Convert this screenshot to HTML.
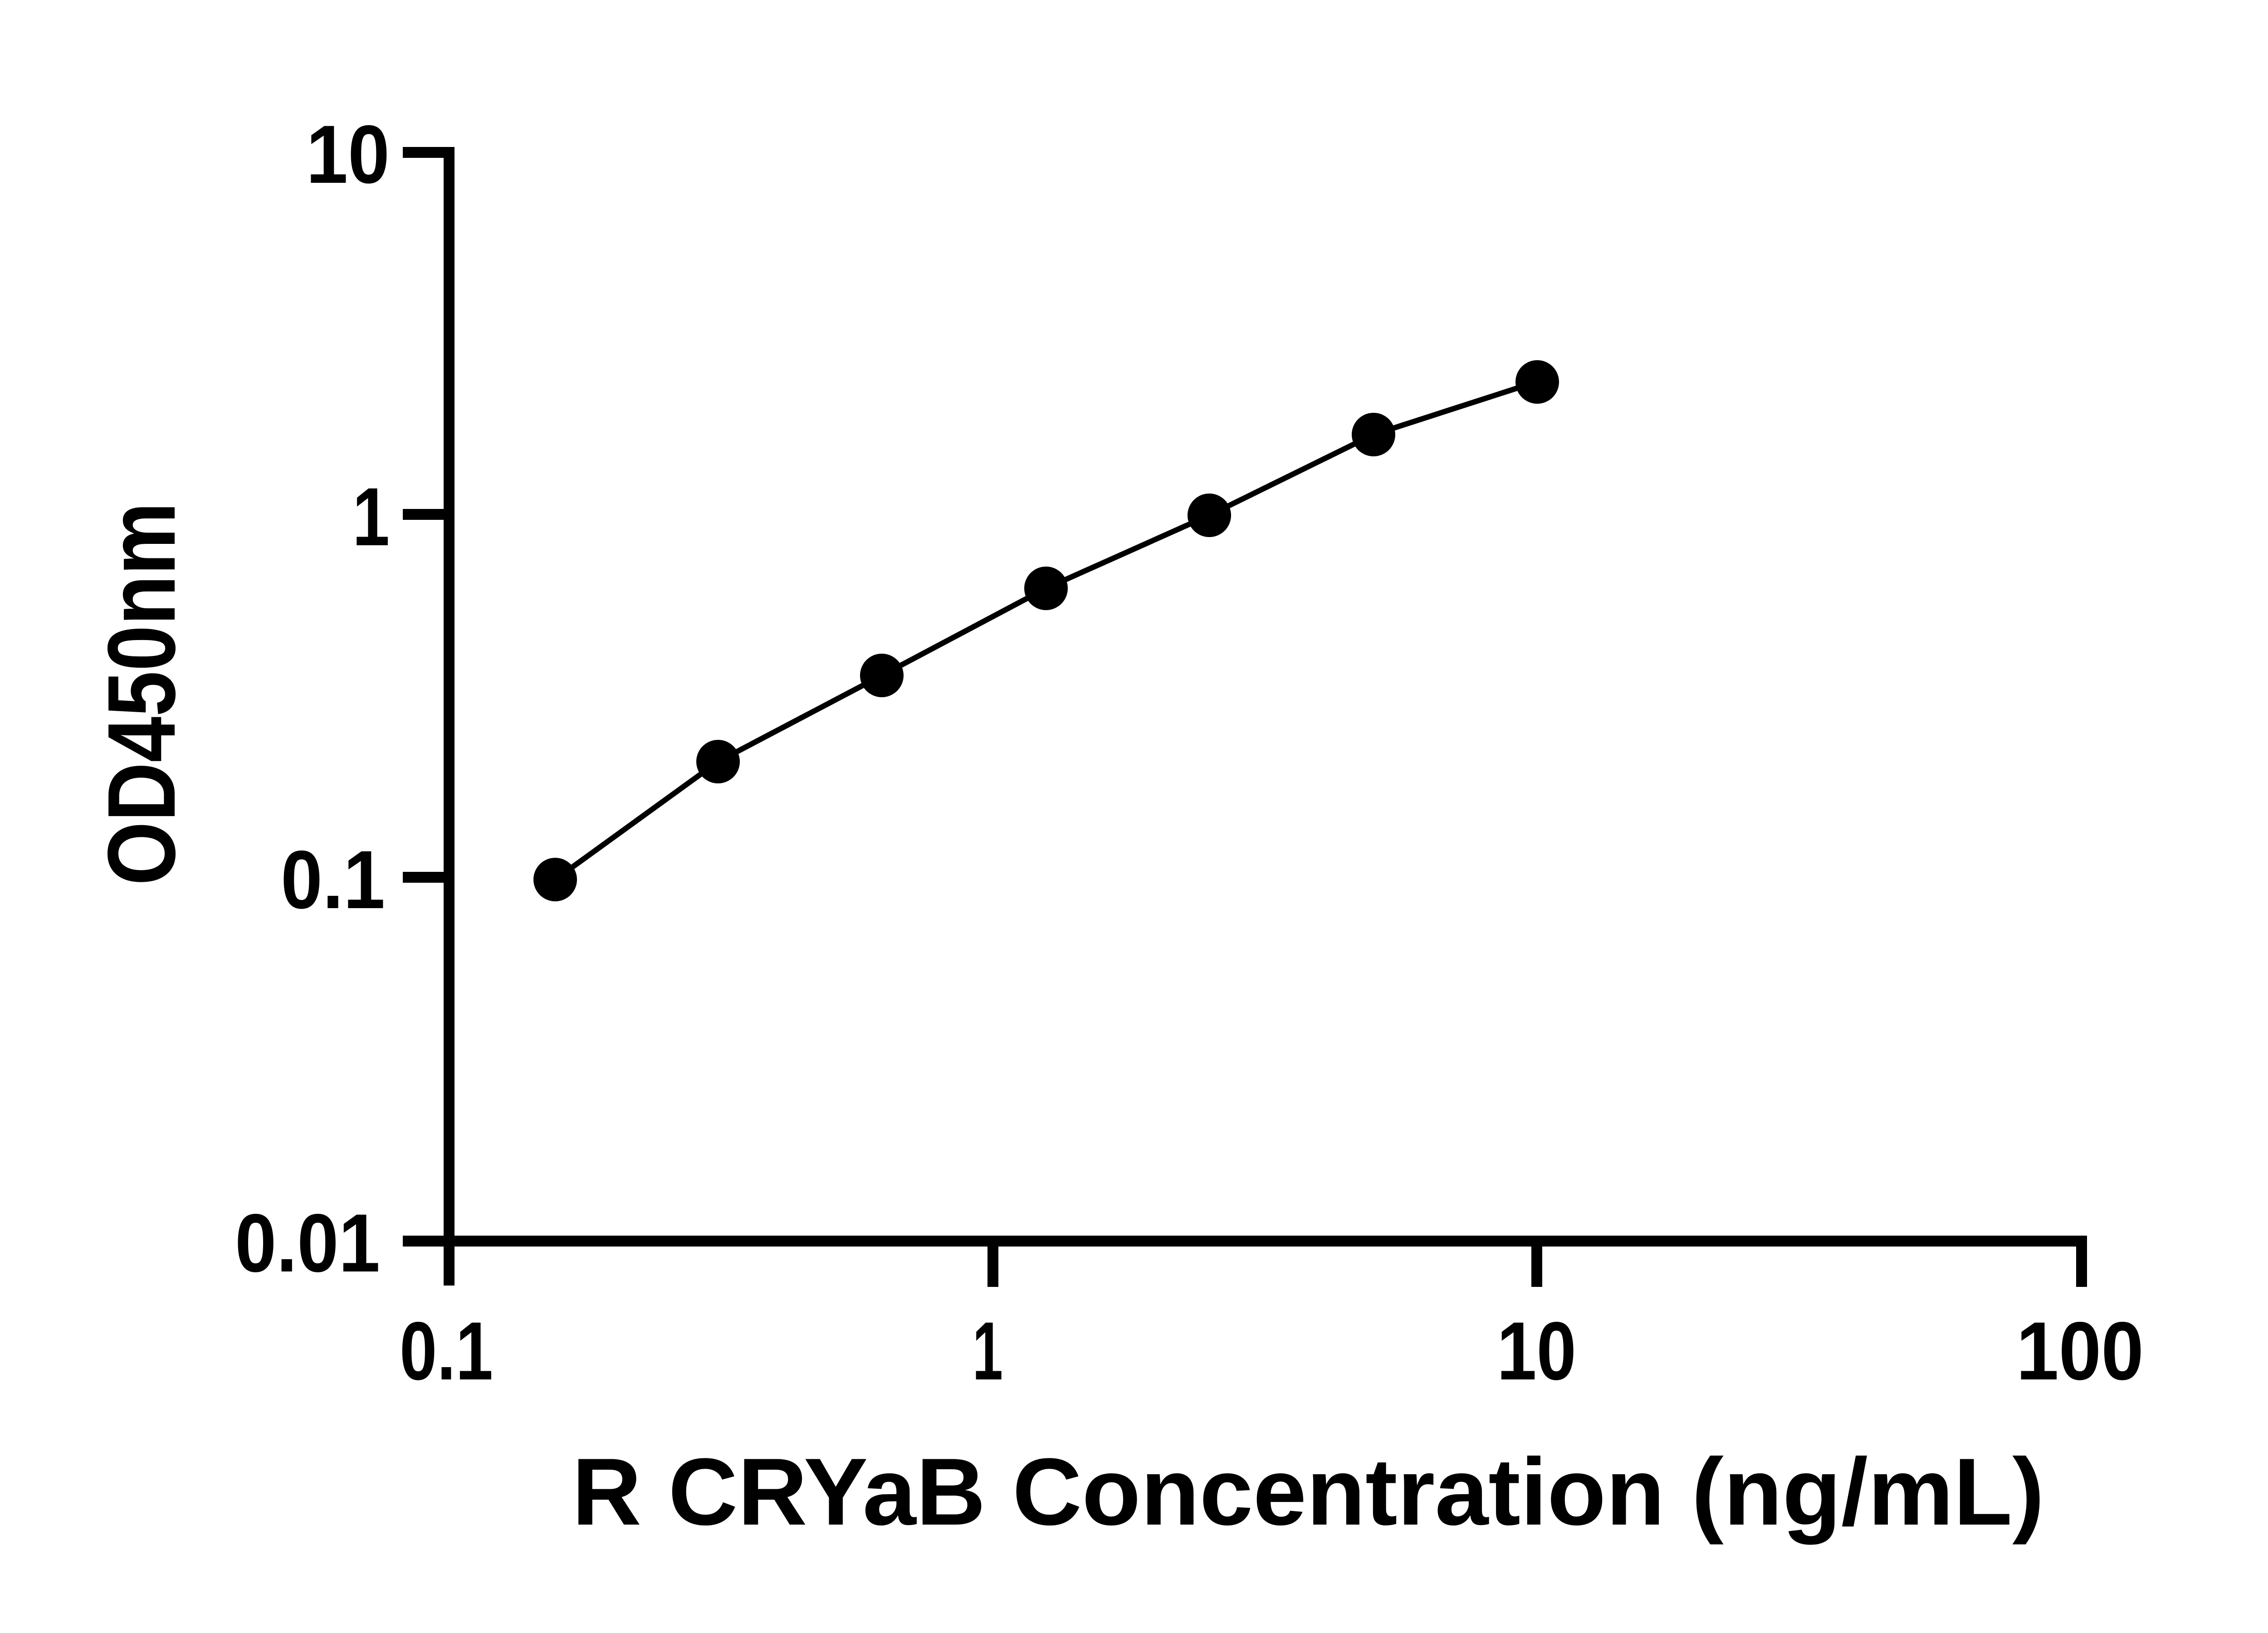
<!DOCTYPE html>
<html><head><style>html,body{margin:0;padding:0;background:#fff}svg{display:block}</style></head>
<body>
<svg width="5142" height="3600" viewBox="0 0 5142 3600" xmlns="http://www.w3.org/2000/svg">
<g stroke="#000" fill="none">
<line x1="990" y1="324" x2="990" y2="2834" stroke-width="24"/>
<line x1="978" y1="2736" x2="4601" y2="2736" stroke-width="24"/>
<g stroke-width="24">
<line x1="888" y1="336" x2="990" y2="336"/>
<line x1="888" y1="1134" x2="990" y2="1134"/>
<line x1="888" y1="1934" x2="990" y2="1934"/>
<line x1="888" y1="2736" x2="990" y2="2736"/>
<line x1="2189" y1="2736" x2="2189" y2="2837"/>
<line x1="3388" y1="2736" x2="3388" y2="2837"/>
<line x1="4589" y1="2736" x2="4589" y2="2837"/>
</g>
<polyline stroke-width="12" stroke-linejoin="round" points="1224,1939 1583,1679 1944,1489 2306,1297 2666,1136 3028,958 3390,841"/>
</g>
<g fill="#000">
<circle cx="1224" cy="1939" r="48"/><circle cx="1583" cy="1679" r="48"/><circle cx="1944" cy="1489" r="48"/>
<circle cx="2306" cy="1297" r="48"/><circle cx="2666" cy="1136" r="48"/><circle cx="3028" cy="958" r="48"/>
<circle cx="3389" cy="842" r="48"/>
</g>
<g font-family="Liberation Sans, sans-serif" font-weight="bold" font-size="182" fill="#000">
<text x="675" y="403" textLength="184" lengthAdjust="spacingAndGlyphs">10</text>
<text x="777" y="1202" textLength="82" lengthAdjust="spacingAndGlyphs">1</text>
<text x="619" y="2002" textLength="230" lengthAdjust="spacingAndGlyphs">0.1</text>
<text x="518" y="2803" textLength="320" lengthAdjust="spacingAndGlyphs">0.01</text>
<text x="881" y="3041" textLength="206" lengthAdjust="spacingAndGlyphs">0.1</text>
<text x="2144" y="3041" textLength="67" lengthAdjust="spacingAndGlyphs">1</text>
<text x="3300" y="3041" textLength="175" lengthAdjust="spacingAndGlyphs">10</text>
<text x="4445" y="3041" textLength="281" lengthAdjust="spacingAndGlyphs">100</text>
<text x="1261" y="3361" font-size="210" textLength="3246" lengthAdjust="spacingAndGlyphs">R CRYaB Concentration (ng/mL)</text>
<text transform="translate(385,1952) rotate(-90)" x="0" y="0" font-size="212" textLength="845" lengthAdjust="spacingAndGlyphs">OD450nm</text>
</g>
</svg>
</body></html>
